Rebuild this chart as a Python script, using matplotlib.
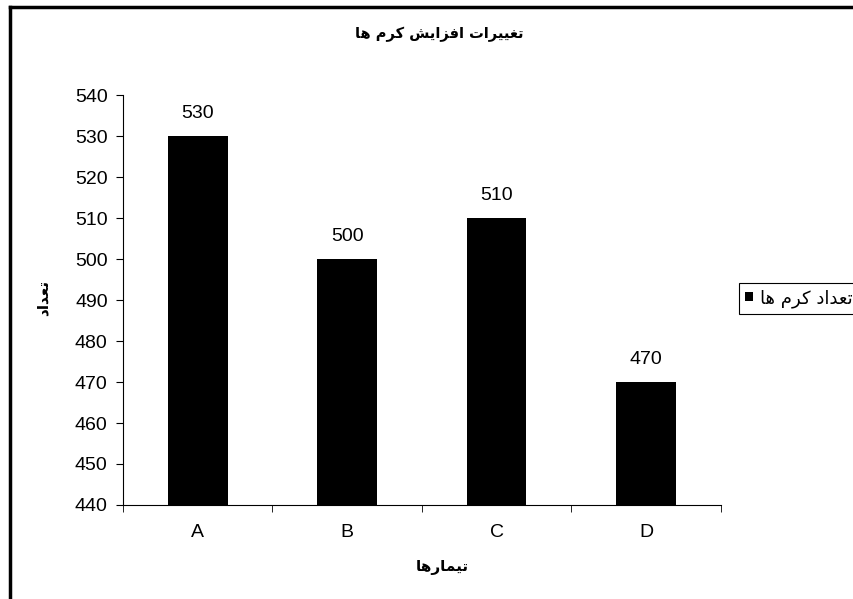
import matplotlib
matplotlib.use('Agg')
import matplotlib.pyplot as plt
from matplotlib.lines import Line2D

plt.rcParams['font.family'] = ['Liberation Sans', 'DejaVu Sans']

categories = ['A', 'B', 'C', 'D']
values = [530, 500, 510, 470]
y_ticks = [440, 450, 460, 470, 480, 490, 500, 510, 520, 530, 540]

title = 'تغییرات افزایش کرم ها'
x_label = 'تیمارها'
y_label = 'تعداد'
series_name = 'تعداد کرم ها'

# presentation forms: isolated, final, initial, medial
FORMS = {
    'ا': ('\uFE8D', '\uFE8E', None, None),
    'د': ('\uFEA9', '\uFEAA', None, None),
    'ر': ('\uFEAD', '\uFEAE', None, None),
    'ز': ('\uFEAF', '\uFEB0', None, None),
    'ت': ('\uFE95', '\uFE96', '\uFE97', '\uFE98'),
    'غ': ('\uFECD', '\uFECE', '\uFECF', '\uFED0'),
    'ع': ('\uFEC9', '\uFECA', '\uFECB', '\uFECC'),
    'ف': ('\uFED1', '\uFED2', '\uFED3', '\uFED4'),
    'ش': ('\uFEB5', '\uFEB6', '\uFEB7', '\uFEB8'),
    'م': ('\uFEE1', '\uFEE2', '\uFEE3', '\uFEE4'),
    'ه': ('\uFEE9', '\uFEEA', '\uFEEB', '\uFEEC'),
    'ی': ('\uFBFC', '\uFBFD', '\uFBFE', '\uFBFF'),
    'ک': ('\uFB8E', '\uFB8F', '\uFB90', '\uFB91'),
}


def shape(text):
    """join persian letters and put them in visual order"""
    out = []
    for i, ch in enumerate(text):
        if ch not in FORMS:
            out.append(ch)
            continue
        prev = text[i - 1] if i > 0 else ''
        nxt = text[i + 1] if i + 1 < len(text) else ''
        iso, fin, ini, med = FORMS[ch]
        join_prev = prev in FORMS and FORMS[prev][2] is not None
        join_next = nxt in FORMS and ini is not None
        if join_prev and join_next:
            out.append(med)
        elif join_prev:
            out.append(fin)
        elif join_next:
            out.append(ini)
        else:
            out.append(iso)
    return ''.join(reversed(out))


fig = plt.figure(figsize=(8.54, 5.99), dpi=100)
ax = fig.add_axes([0.144, 0.157, 0.700, 0.684])

x = range(len(categories))
bars = ax.bar(x, values, width=0.4, color='black', label=shape(series_name))
for b, v in zip(bars, values):
    ax.annotate(str(v), (b.get_x() + b.get_width() / 2, v), xytext=(0, 10),
                textcoords='offset points', ha='center', va='bottom', fontsize=14)

ax.set_ylim(440, 540)
ax.set_xlim(-0.5, len(categories) - 0.5)
ax.set_yticks(y_ticks)
ax.set_xticks(list(x))
ax.set_xticklabels(categories)
ax.set_xticks([i - 0.5 for i in range(len(categories) + 1)], minor=True)
ax.tick_params(axis='x', which='major', length=0, pad=14, labelsize=14)
ax.tick_params(axis='x', which='minor', length=5, direction='out')
ax.tick_params(axis='y', length=5, direction='out', pad=6, labelsize=14)
for s in ['top', 'right']:
    ax.spines[s].set_visible(False)

fig.text(0.515, 0.942, shape(title), ha='center', va='center',
         fontsize=10.5, fontweight='bold', family=['DejaVu Sans'])
fig.text(0.518, 0.052, shape(x_label), ha='center', va='center',
         fontsize=11, fontweight='bold', family=['DejaVu Sans'])
fig.text(0.05, 0.503, shape(y_label), ha='center', va='center', rotation=90,
         fontsize=11, fontweight='bold', family=['DejaVu Sans'])

leg = fig.legend(loc='upper left', bbox_to_anchor=(0.865, 0.528), borderaxespad=0,
                 markerfirst=True, fancybox=False, framealpha=1, edgecolor='black',
                 prop={'family': ['DejaVu Sans'], 'size': 13},
                 handlelength=0.45, handleheight=0.45, handletextpad=0.4, borderpad=0.35)
leg.get_frame().set_linewidth(0.8)

# outer chart border (only left and top visible)
fig.add_artist(Line2D([0.012, 0.012], [0.0, 0.988], color='black', lw=2.5))
fig.add_artist(Line2D([0.012, 1.0], [0.988, 0.988], color='black', lw=2.5))

fig.savefig('out.png', dpi=100)
